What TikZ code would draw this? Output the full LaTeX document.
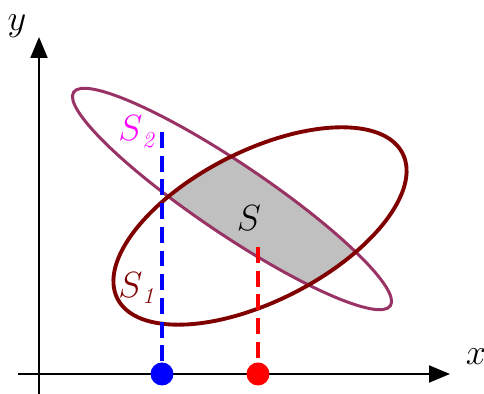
\documentclass[tikz,border=0pt]{standalone}
\usepackage{fontspec}
\usepackage{tikz}
\usetikzlibrary{arrows.meta}
\definecolor{setOne}{HTML}{800000}
\definecolor{setTwo}{HTML}{993366}
\definecolor{setTwoText}{HTML}{FF00FF}
\definecolor{areaGray}{HTML}{C0C0C0}
\newcommand{\bigit}{\fontsize{21}{24}\selectfont}
\newcommand{\sub}[1]{\raisebox{-0.18em}{\fontsize{13}{13}\selectfont\itshape #1}}
\tikzset{
  axis/.style={-{Triangle[length=4.2mm,width=3.4mm]},line width=1.1pt,draw=black},
  ellOne/.style={draw=setOne,line width=2.2pt},
  ellTwo/.style={draw=setTwo,line width=1.7pt},
  proj/.style={line width=1.8pt,dash pattern=on 9pt off 4.5pt},
  dot/.style={circle,inner sep=0pt,minimum size=0.46cm},
  lbl/.style={font=\bigit,inner sep=1pt}
}
\begin{document}
\begin{tikzpicture}[x=0.02cm,y=0.02cm]
  \useasboundingbox (0,0) rectangle (484,394);
  % axes
  \coordinate (ybot) at (39,0);
  \coordinate (ytop) at (39,357);
  \coordinate (xleft) at (18,20);
  \coordinate (xright) at (450,20);
  \draw[axis] (ybot) -- (ytop);
  \draw[axis] (xleft) -- (xright);
  \node[lbl] (ylab) at (17,368) {$y$};
  \node[lbl] (xlab) at (476,37) {$x$};

  % intersection S
  \begin{scope}
    \clip (260,168) ellipse[x radius=160, y radius=75, rotate=27];
    \fill[areaGray] (232,195) ellipse[x radius=191, y radius=35, rotate=-34];
  \end{scope}
  \draw[ellTwo] (232,195) ellipse[x radius=191, y radius=35, rotate=-34];
  \draw[ellOne] (260,168) ellipse[x radius=160, y radius=75, rotate=27];

  % projections
  \node[dot,fill=blue] (pblue) at (162,20) {};
  \node[dot,fill=red] (pred) at (258,20) {};
  \coordinate (tblue) at (162,262);
  \coordinate (tred) at (258,147);
  \draw[proj,blue] (tblue) -- (pblue);
  \draw[proj,red] (tred) -- (pred);

  % labels
  \node[lbl,text=setTwoText] (stwo) at (136,262) {$S$\sub{2}};
  \node[lbl] (s) at (249,176) {$S$};
  \node[lbl,text=setOne] (sone) at (136,106) {$S$\sub{1}};
\end{tikzpicture}
\end{document}
